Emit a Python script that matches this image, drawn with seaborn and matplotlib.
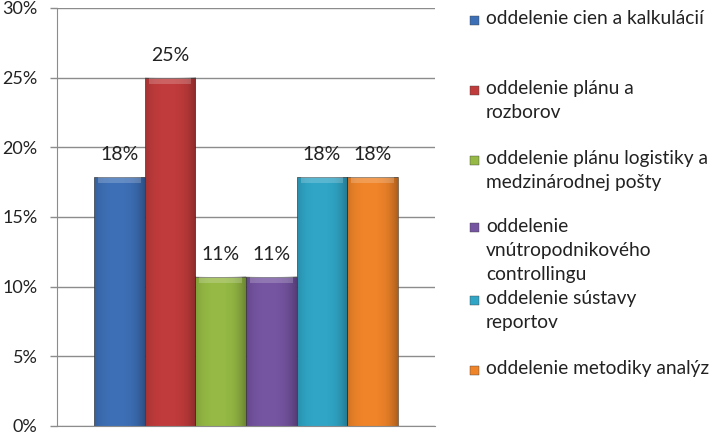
import numpy as np
import pandas as pd
import matplotlib

matplotlib.use("Agg")
import matplotlib.pyplot as plt
import seaborn as sns
from matplotlib.patches import Rectangle

# data
departments = [
    "oddelenie cien a kalkulácií",
    "oddelenie plánu a\nrozborov",
    "oddelenie plánu logistiky a\nmedzinárodnej pošty",
    "oddelenie\nvnútropodnikového\ncontrollingu",
    "oddelenie sústavy\nreportov",
    "oddelenie metodiky analýz",
]
shares = [17.86, 25.0, 10.71, 10.71, 17.86, 17.86]
bar_labels = ["18%", "25%", "11%", "11%", "18%", "18%"]
colors = ["#3d6fb6", "#c03b3b", "#95b944", "#7554a1", "#30a5c6", "#ef8429"]
yticks = [0, 5, 10, 15, 20, 25, 30]

sns.set_style("white")
plt.rcParams["font.family"] = ["Lato", "DejaVu Sans"]

df = pd.DataFrame({"dept": departments, "share": shares})

fig = plt.figure(figsize=(7.16, 4.34), dpi=100)
ax = fig.add_axes([57 / 716, 8 / 434, 378 / 716, 418 / 434])

sns.barplot(
    data=df, x="dept", y="share", hue="dept", palette=colors,
    width=1.0, dodge=False, legend=False, ax=ax, saturation=1,
    edgecolor="#333333", linewidth=0.4,
)

# fake the Excel bevel a bit: darker sides, lighter top strip
shade_cmap = matplotlib.colors.LinearSegmentedColormap.from_list(
    "s", [(0, 0, 0, 0), (0, 0, 0, 0.28)])
for patch in ax.patches:
    x0, y0 = patch.get_x(), patch.get_y()
    w, h = patch.get_width(), patch.get_height()
    grad = np.abs(np.linspace(-0.8, 1, 64)) ** 3
    shade = np.tile(grad, (2, 1))
    ax.imshow(shade, extent=(x0, x0 + w, y0, y0 + h), aspect="auto",
              cmap=shade_cmap, vmin=0, vmax=1,
              zorder=patch.get_zorder() + 0.1, clip_path=patch, clip_on=True)
    top = Rectangle((x0 + 0.08, y0 + h - 0.42), w - 0.16, 0.42,
                    facecolor="white", alpha=0.2, lw=0,
                    zorder=patch.get_zorder() + 0.2)
    ax.add_patch(top)

for i, (val, lab) in enumerate(zip(shares, bar_labels)):
    ax.text(i, val + 1.0, lab, ha="center", va="bottom", fontsize=14,
            color="#222222")

ax.set_xlim(-1.23, 6.23)
ax.set_ylim(0, 30)
ax.set_yticks(yticks)
ax.set_yticklabels([f"{t}%" for t in yticks], fontsize=13, color="#222222")
ax.set_xticks([])
ax.set_xlabel("")
ax.set_ylabel("")
ax.yaxis.grid(True, color="#8c8c8c", linewidth=1)
ax.set_axisbelow(True)
ax.tick_params(axis="y", left=True, length=5, width=1, color="#8c8c8c", pad=9)
for side in ["top", "right"]:
    ax.spines[side].set_visible(False)
ax.spines["left"].set_color("#8c8c8c")
ax.spines["bottom"].set_color("#8c8c8c")

# legend drawn by hand so the entries sit where Excel put them
entry_tops = [20, 90, 160, 228, 300, 370]
for name, col, ytop in zip(departments, colors, entry_tops):
    fy = 1 - ytop / 434
    fig.patches.append(Rectangle((470 / 716, fy - 4.5 / 434), 9 / 716, 9 / 434,
                                 transform=fig.transFigure, facecolor=col,
                                 edgecolor="#444444", lw=0.3))
    fig.text(486 / 716, fy + 10 / 434, name, ha="left", va="top",
             fontsize=13.8, color="#222222", linespacing=1.5)

fig.savefig("out.png", dpi=100)
